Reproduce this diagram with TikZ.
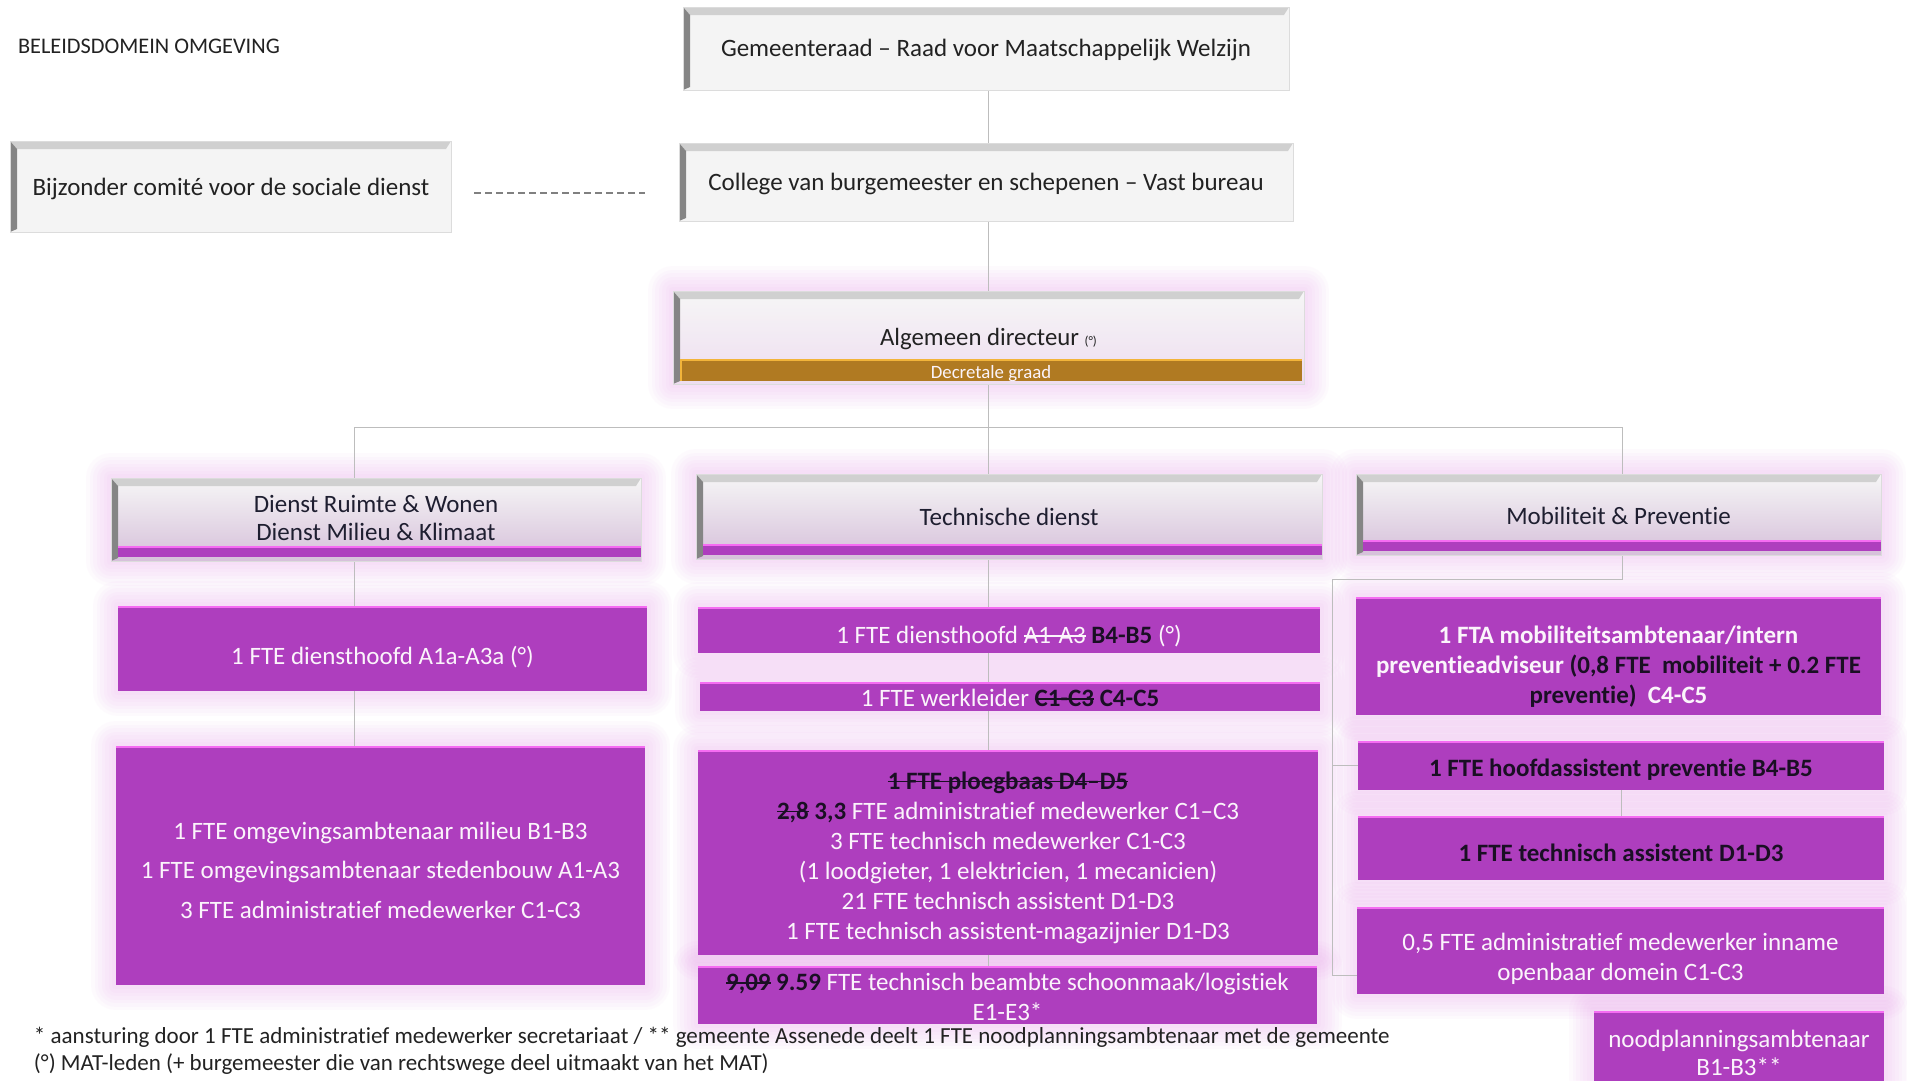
\documentclass[tikz,border=0pt]{standalone}
\usepackage{fontspec}
\setmainfont{Carlito}[Ligatures={TeX,NoCommon}]
\usetikzlibrary{backgrounds}
\definecolor{purp}{HTML}{AE3EBE}
\definecolor{pinkedge}{HTML}{F56CF2}
\definecolor{glowc}{HTML}{E8A0EA}
\definecolor{lnc}{HTML}{BDBDBD}
\definecolor{boxgray}{HTML}{F4F4F4}
\definecolor{bordc}{HTML}{DCDCDC}
\definecolor{bevtop}{HTML}{D0D0D0}
\definecolor{bevleft}{HTML}{858585}
\definecolor{txt}{HTML}{222222}
\definecolor{htxt}{HTML}{1E1E30}
\definecolor{dark}{HTML}{1A0F24}
\definecolor{wtxt}{HTML}{FBF4FB}
\definecolor{brownbar}{HTML}{B07A22}
\definecolor{barline}{HTML}{F2B43A}
\definecolor{headtop}{HTML}{F6F6F6}
\definecolor{headbot}{HTML}{D6C0DA}
\definecolor{algbot}{HTML}{EEDDF0}
\newsavebox{\mystrkbox}
\newcommand{\strk}[1]{\leavevmode\sbox{\mystrkbox}{#1}\rlap{\raisebox{0.27em}{\rule{\wd\mystrkbox}{0.075em}}}\usebox{\mystrkbox}}
\newcommand{\dk}[1]{\textcolor{dark}{\textbf{#1}}}
\newcommand{\dks}[1]{\textcolor{dark}{\textbf{\strk{#1}}}}
\newcommand{\mybevel}{%
  \fill[bevtop] (path picture bounding box.north west) -- (path picture bounding box.north east)
     -- ([xshift=-5pt,yshift=-8pt]path picture bounding box.north east)
     -- ([xshift=7pt,yshift=-8pt]path picture bounding box.north west) -- cycle;
  \fill[bevleft] (path picture bounding box.north west) -- ([xshift=7pt,yshift=-8pt]path picture bounding box.north west)
     -- ([xshift=7pt,yshift=3pt]path picture bounding box.south west) -- (path picture bounding box.south west) -- cycle;}
\newcommand{\mybar}{%
  \fill[purp] ([xshift=7pt,yshift=4pt]path picture bounding box.south west) rectangle ([yshift=15pt]path picture bounding box.south east);
  \draw[pinkedge, line width=2.5pt] ([xshift=7pt,yshift=14pt]path picture bounding box.south west) -- ([yshift=14pt]path picture bounding box.south east);}
\begin{document}
\begin{tikzpicture}[x=1pt,y=-1pt,
  every node/.style={inner sep=0pt, outer sep=0pt},
  conn/.style={draw=lnc, line width=1pt},
  graybox/.style={anchor=north west, fill=boxgray, draw=bordc, line width=0.6pt, path picture={\mybevel}},
  hbox/.style={anchor=north west, top color=headtop, bottom color=headbot, draw=bordc, line width=0.6pt,
     path picture={\mybevel\mybar}},
  pbox/.style={anchor=north west, fill=purp,
     path picture={\draw[pinkedge, line width=4pt] (path picture bounding box.north west) -- (path picture bounding box.north east);}},
  gtxt/.style={text=txt, font=\fontsize{25}{30}\selectfont},
  htext/.style={text=htxt, align=center, font=\fontsize{25}{28}\selectfont},
  ptxt/.style={text=wtxt, align=center, font=\fontsize{25}{30}\selectfont},
  btxt/.style={text=dark, align=center, font=\fontsize{25}{30}\selectfont\bfseries},
  glowl/.style={draw=glowc, line width=#1, opacity=0.05, line join=round},
  foot/.style={anchor=west, text=txt, font=\fontsize{23}{26}\selectfont}
]
\clip (0,0) rectangle (1907,1080);

% title
\node[anchor=west, text=txt, font=\fontsize{22.3}{24}\selectfont] (title) at (18,46) {BELEIDSDOMEIN OMGEVING};

% top boxes
\node[graybox, minimum width=606, minimum height=83] (gem) at (683,7) {};
\node[gtxt] (gemt) at (986,50) {Gemeenteraad – Raad voor Maatschappelijk Welzijn};
\node[graybox, minimum width=614, minimum height=78] (col) at (679,143) {};
\node[gtxt] (colt) at (986,183.5) {College van burgemeester en schepenen – Vast bureau};
\node[graybox, minimum width=441, minimum height=91] (bij) at (10,141) {};
\node[gtxt] (bijt) at (231,188.5) {Bijzonder comité voor de sociale dienst};
\node[anchor=north west, minimum width=631, minimum height=93, top color=headtop, bottom color=algbot,
      draw=bordc, line width=0.6pt, path picture={\mybevel}] (alg) at (673,291) {};
\node[anchor=north west, minimum width=622, minimum height=22, fill=brownbar, text=wtxt,
      font=\fontsize{18.8}{20}\selectfont, text height=16pt, text depth=0pt,
      path picture={\draw[barline, line width=3pt] (path picture bounding box.north west) -- (path picture bounding box.north east);
                    \draw[barline, line width=4pt] (path picture bounding box.north west) -- (path picture bounding box.south west);}] (dec) at (680,359) {Decretale graad};
\node[text=txt, font=\fontsize{24.8}{28}\selectfont] (algt) at (988.5,339.5) {Algemeen directeur {\fontsize{13}{13}\selectfont(°)}};

% head boxes
\node[hbox, minimum width=530, minimum height=83] (ruimte) at (111,478) {};
\node[htext] (ruimtet) at (376,518) {Dienst Ruimte \& Wonen\\Dienst Milieu \& Klimaat};
\node[hbox, minimum width=626, minimum height=85] (tech) at (696,474) {};
\node[htext] (techt) at (1009,516.5) {Technische dienst};
\node[hbox, minimum width=525, minimum height=81] (mob) at (1356,474) {};
\node[htext] (mobt) at (1618.5,515.5) {Mobiliteit \& Preventie};

% left column
\node[pbox, minimum width=529, minimum height=85] (l1) at (118,606) {};
\node[ptxt] (l1t) at (382.5,657) {1 FTE diensthoofd A1a-A3a (°)};
\node[pbox, minimum width=529, minimum height=239] (l2) at (116,746) {};
\node[ptxt, font=\fontsize{25}{39.5}\selectfont] (l2t) at (380.5,870)
  {1 FTE omgevingsambtenaar milieu B1-B3\\1 FTE omgevingsambtenaar stedenbouw A1-A3\\3 FTE administratief medewerker C1-C3};

% middle column
\node[pbox, minimum width=622, minimum height=46] (m1) at (698,607) {};
\node[ptxt] (m1t) at (1009,636) {1 FTE diensthoofd \strk{A1-A3} \dk{B4-B5} (°)};
\node[pbox, minimum width=620, minimum height=29] (m2) at (700,682) {};
\node[ptxt] (m2t) at (1010,698) {1 FTE werkleider \dks{C1-C3} \dk{C4-C5}};
\node[pbox, minimum width=620, minimum height=205] (m3) at (698,750) {};
\node[ptxt] (m3t) at (1008,857.5)
  {\dks{1 FTE ploegbaas D4–D5}\\
   \dks{2,8} \dk{3,3} FTE administratief medewerker C1–C3\\
   3 FTE technisch medewerker C1-C3\\
   (1 loodgieter, 1 elektricien, 1 mecanicien)\\
   21 FTE technisch assistent D1-D3\\
   1 FTE technisch assistent-magazijnier D1-D3};
\node[pbox, minimum width=619, minimum height=58] (m4) at (698,966) {};
\node[ptxt] (m4t) at (1007.5,997) {\dks{9,09} \dk{9.59} FTE technisch beambte schoonmaak/logistiek\\E1-E3*};

% right column
\node[pbox, minimum width=525, minimum height=118] (r1) at (1356,597) {};
\node[ptxt, font=\fontsize{25}{30}\selectfont\bfseries] (r1t) at (1618.5,666.5)
  {1 FTA mobiliteitsambtenaar/intern\\
   preventieadviseur \textcolor{dark}{(0,8 FTE\ \ mobiliteit + 0.2 FTE}\\
   \textcolor{dark}{preventie)}\ \ C4-C5};
\node[pbox, minimum width=526, minimum height=49] (r2) at (1358,741) {};
\node[btxt] (r2t) at (1621,770) {1 FTE hoofdassistent preventie B4-B5};
\node[pbox, minimum width=526, minimum height=64] (r3) at (1358,816) {};
\node[btxt] (r3t) at (1621,852.5) {1 FTE technisch assistent D1-D3};
\node[pbox, minimum width=527, minimum height=87] (r4) at (1357,907) {};
\node[ptxt] (r4t) at (1620.5,959) {0,5 FTE administratief medewerker inname\\openbaar domein C1-C3};
\node[pbox, minimum width=290, minimum height=80] (r5) at (1594,1011) {};
\node[ptxt, font=\fontsize{25}{28}\selectfont] (r5t) at (1739,1052.5) {noodplanningsambtenaar\\B1-B3**};

% background: white page, glow, connectors
\coordinate (spine) at (988,0);
\coordinate (busL) at (354,427);
\coordinate (busR) at (1622,427);
\coordinate (rx) at (1332,579);
\coordinate (r4in) at ([yshift=-24.5pt]r4.west);
\coordinate (d1) at (474,193);
\coordinate (d2) at (645,193);
\begin{scope}[on background layer]
  \fill[white] (0,0) rectangle (1907,1080);
  \foreach \n in {alg,ruimte,tech,mob,l1,l2,m1,m2,m3,m4,r1,r2,r3,r4,r5} {
    \foreach \w in {50,43,36,29,22,15,8} {
      \draw[glowl=\w pt] (\n.north west) rectangle (\n.south east);
    }
  }
  \draw[conn] (gem.south -| spine) -- (col.north -| spine);
  \draw[conn] (col.south -| spine) -- (alg.north -| spine);
  \draw[conn] (alg.south -| spine) -- (tech.north -| spine);
  \draw[conn] (busL |- ruimte.north) -- (busL) -- (busR) -- (busR |- mob.north);
  \draw[conn] (busL |- ruimte.south) -- (busL |- l1.north);
  \draw[conn] (busL |- l1.south) -- (busL |- l2.north);
  \draw[conn] (tech.south -| spine) -- (m1.north -| spine);
  \draw[conn] (m1.south -| spine) -- (m2.north -| spine);
  \draw[conn] (m2.south -| spine) -- (m3.north -| spine);
  \draw[conn] (m3.south -| spine) -- (m4.north -| spine);
  \draw[conn] (busR |- mob.south) -- (busR |- rx) -- (rx) -- (rx |- r4in) -- (r4in);
  \draw[conn] (rx |- r2.west) -- (r2.west);
  \draw[conn] (r2.south) -- (r3.north);
\end{scope}
\draw[draw=gray, line width=1.2pt, dash pattern=on 7pt off 4pt] (d1) -- (d2);

% footnotes
\node[foot] (f1) at (34,1037) {* aansturing door 1 FTE administratief medewerker secretariaat / ** gemeente Assenede deelt 1 FTE noodplanningsambtenaar met de gemeente};
\node[foot] (f2) at (34,1064) {(°) MAT-leden (+ burgemeester die van rechtswege deel uitmaakt van het MAT)};
\end{tikzpicture}
\end{document}
